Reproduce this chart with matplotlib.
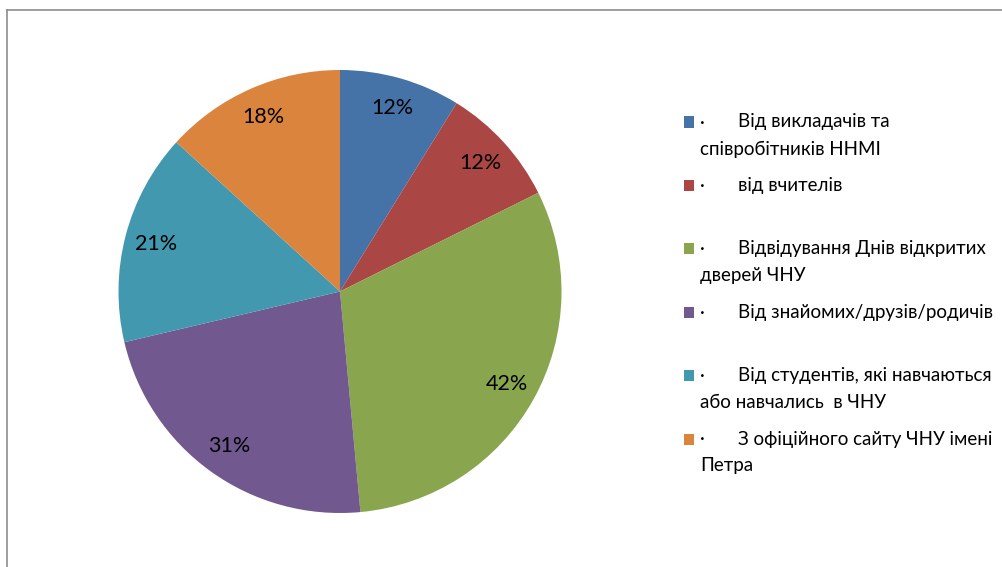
import matplotlib
matplotlib.use("Agg")
import matplotlib.pyplot as plt
from matplotlib.lines import Line2D
from matplotlib.patches import Rectangle

plt.rcParams['font.family'] = ['Lato', 'DejaVu Sans']

categories = [
    ["Від викладачів та", "співробітників ННМІ"],
    ["від вчителів"],
    ["Відвідування Днів відкритих", "дверей ЧНУ"],
    ["Від знайомих/друзів/родичів"],
    ["Від студентів, які навчаються", "або навчались  в ЧНУ"],
    ["З офіційного сайту ЧНУ імені", "Петра"],
]
values = [12, 12, 42, 31, 21, 18]
labels = ["12%", "12%", "42%", "31%", "21%", "18%"]
colors = ["#4572A7", "#AA4643", "#89A54E", "#71588F", "#4198AF", "#DB843D"]

W, H = 1003, 567
fig = plt.figure(figsize=(W / 100, H / 100), dpi=100)
fig.patch.set_facecolor("white")

cx, cy, r = 340, 291.5, 221.5
ax = fig.add_axes([(cx - r) / W, (H - cy - r) / H, 2 * r / W, 2 * r / H])
wedges, texts = ax.pie(values, colors=colors, startangle=90, counterclock=False,
                       radius=1, frame=False, labels=labels, labeldistance=0.86,
                       textprops=dict(fontsize=15.5, color="black"))
for t in texts:
    t.set_horizontalalignment("center")
    t.set_verticalalignment("center")
ax.set_xlim(-1, 1)
ax.set_ylim(-1, 1)
ax.axis("off")

# border lines
fig.add_artist(Line2D([7 / W, 1], [1 - 10 / H, 1 - 10 / H], color="#8c8c8c", lw=1.2))
fig.add_artist(Line2D([7 / W, 7 / W], [0, 1 - 10 / H], color="#8c8c8c", lw=1.2))

# legend
top0 = 122
slot = 63.4
lh = 27
fs = 13.5
for i, (lines, col) in enumerate(zip(categories, colors)):
    y = top0 + i * slot
    fig.add_artist(Rectangle((684 / W, 1 - (y + 5.5) / H), 10 / W, 11 / H,
                             transform=fig.transFigure, facecolor=col, edgecolor="none"))
    fig.text(700 / W, 1 - y / H, "·", fontsize=fs, va="center", ha="left")
    fig.text(738 / W, 1 - y / H, lines[0], fontsize=fs, va="center", ha="left")
    if len(lines) > 1:
        fig.text(700 / W, 1 - (y + lh) / H, lines[1], fontsize=fs, va="center", ha="left")

fig.savefig("out.png", dpi=100)
